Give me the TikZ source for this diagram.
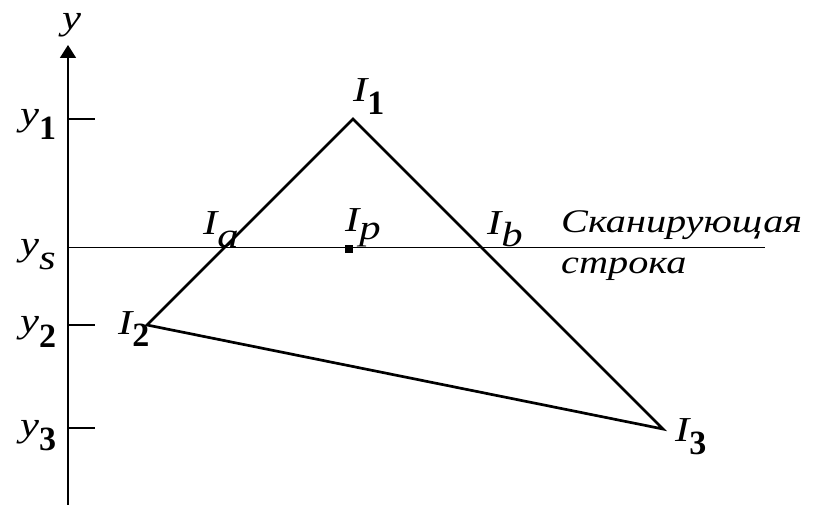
\documentclass[tikz,border=0pt]{standalone}
\usepackage{fontspec}
\setmainfont{Liberation Serif}
\newfontfamily\lblfont{Liberation Serif}[FakeStretch=1.22]
\usetikzlibrary{arrows.meta}
\newcommand{\lowered}[2][13pt]{\raisebox{-#1}{#2}}
\newcommand{\bnum}[1]{{\fontsize{34}{34}\selectfont\rmfamily\upshape\bfseries #1}}

\begin{document}
\begin{tikzpicture}[x=1pt, y=-1pt,
    lbl/.style={font=\fontsize{35}{35}\selectfont\lblfont\itshape, inner sep=0pt, anchor=base west},
    caption/.style={font=\fontsize{33}{33}\selectfont\lblfont\itshape, inner sep=0pt, anchor=base west},
    edge/.style={line width=2.7pt, line join=miter},
    axis/.style={line width=1.6pt, -{Triangle[length=13pt,width=16pt]}},
    tick/.style={line width=1.3pt},
    scan/.style={line width=1.3pt},
    dot/.style={fill, minimum size=8pt, inner sep=0pt}
  ]
  \useasboundingbox (0,0) rectangle (815,505);
  % axis and ticks
  \coordinate (O) at (68,505);
  \coordinate (top) at (68,45);
  \draw[axis] (O) -- (top);
  \foreach \name/\yy in {t1/119, t2/325, t3/428} {
    \coordinate (\name a) at (68,\yy);
    \coordinate (\name b) at (95,\yy);
    \draw[tick] (\name a) -- (\name b);
  }
  % triangle
  \coordinate (I1) at (353,119);
  \coordinate (I2) at (147,325);
  \coordinate (I3) at (663,429);
  \draw[edge] (I1) -- (I2) -- (I3) -- cycle;
  % scan line
  \coordinate (s0) at (68,247.5);
  \coordinate (s1) at (765,247.5);
  \draw[scan] (s0) -- (s1);
  \node[dot] (Ip) at (348.5,249.5) {};
  % axis labels
  \node[lbl] (ylab) at (62,30) {y};
  \node[lbl] (y1lab) at (20,126) {y\lowered[14pt]{\bnum{1}}};
  \node[lbl] (yslab) at (20,256) {y\lowered[14pt]{s}};
  \node[lbl] (y2lab) at (20,333) {y\lowered[15pt]{\bnum{2}}};
  \node[lbl] (y3lab) at (20,436) {y\lowered[14pt]{\bnum{3}}};
  % point labels
  \node[lbl] (I1lab) at (353,102) {I\lowered[13pt]{\bnum{1}}};
  \node[lbl] (I2lab) at (118,335) {I\lowered[12pt]{\bnum{2}}};
  \node[lbl] (I3lab) at (675,442) {I\lowered[13pt]{\bnum{3}}};
  \node[lbl] (Ialab) at (203,235) {I\lowered[13pt]{a}};
  \node[lbl] (Iplab) at (345,232) {I\lowered[8pt]{p}};
  \node[lbl] (Iblab) at (487,235) {I\lowered[12pt]{b}};
  \node[caption] (scanA) at (561,233) {Сканирующая};
  \node[caption] (scanB) at (561,274) {строка};
\end{tikzpicture}
\end{document}
